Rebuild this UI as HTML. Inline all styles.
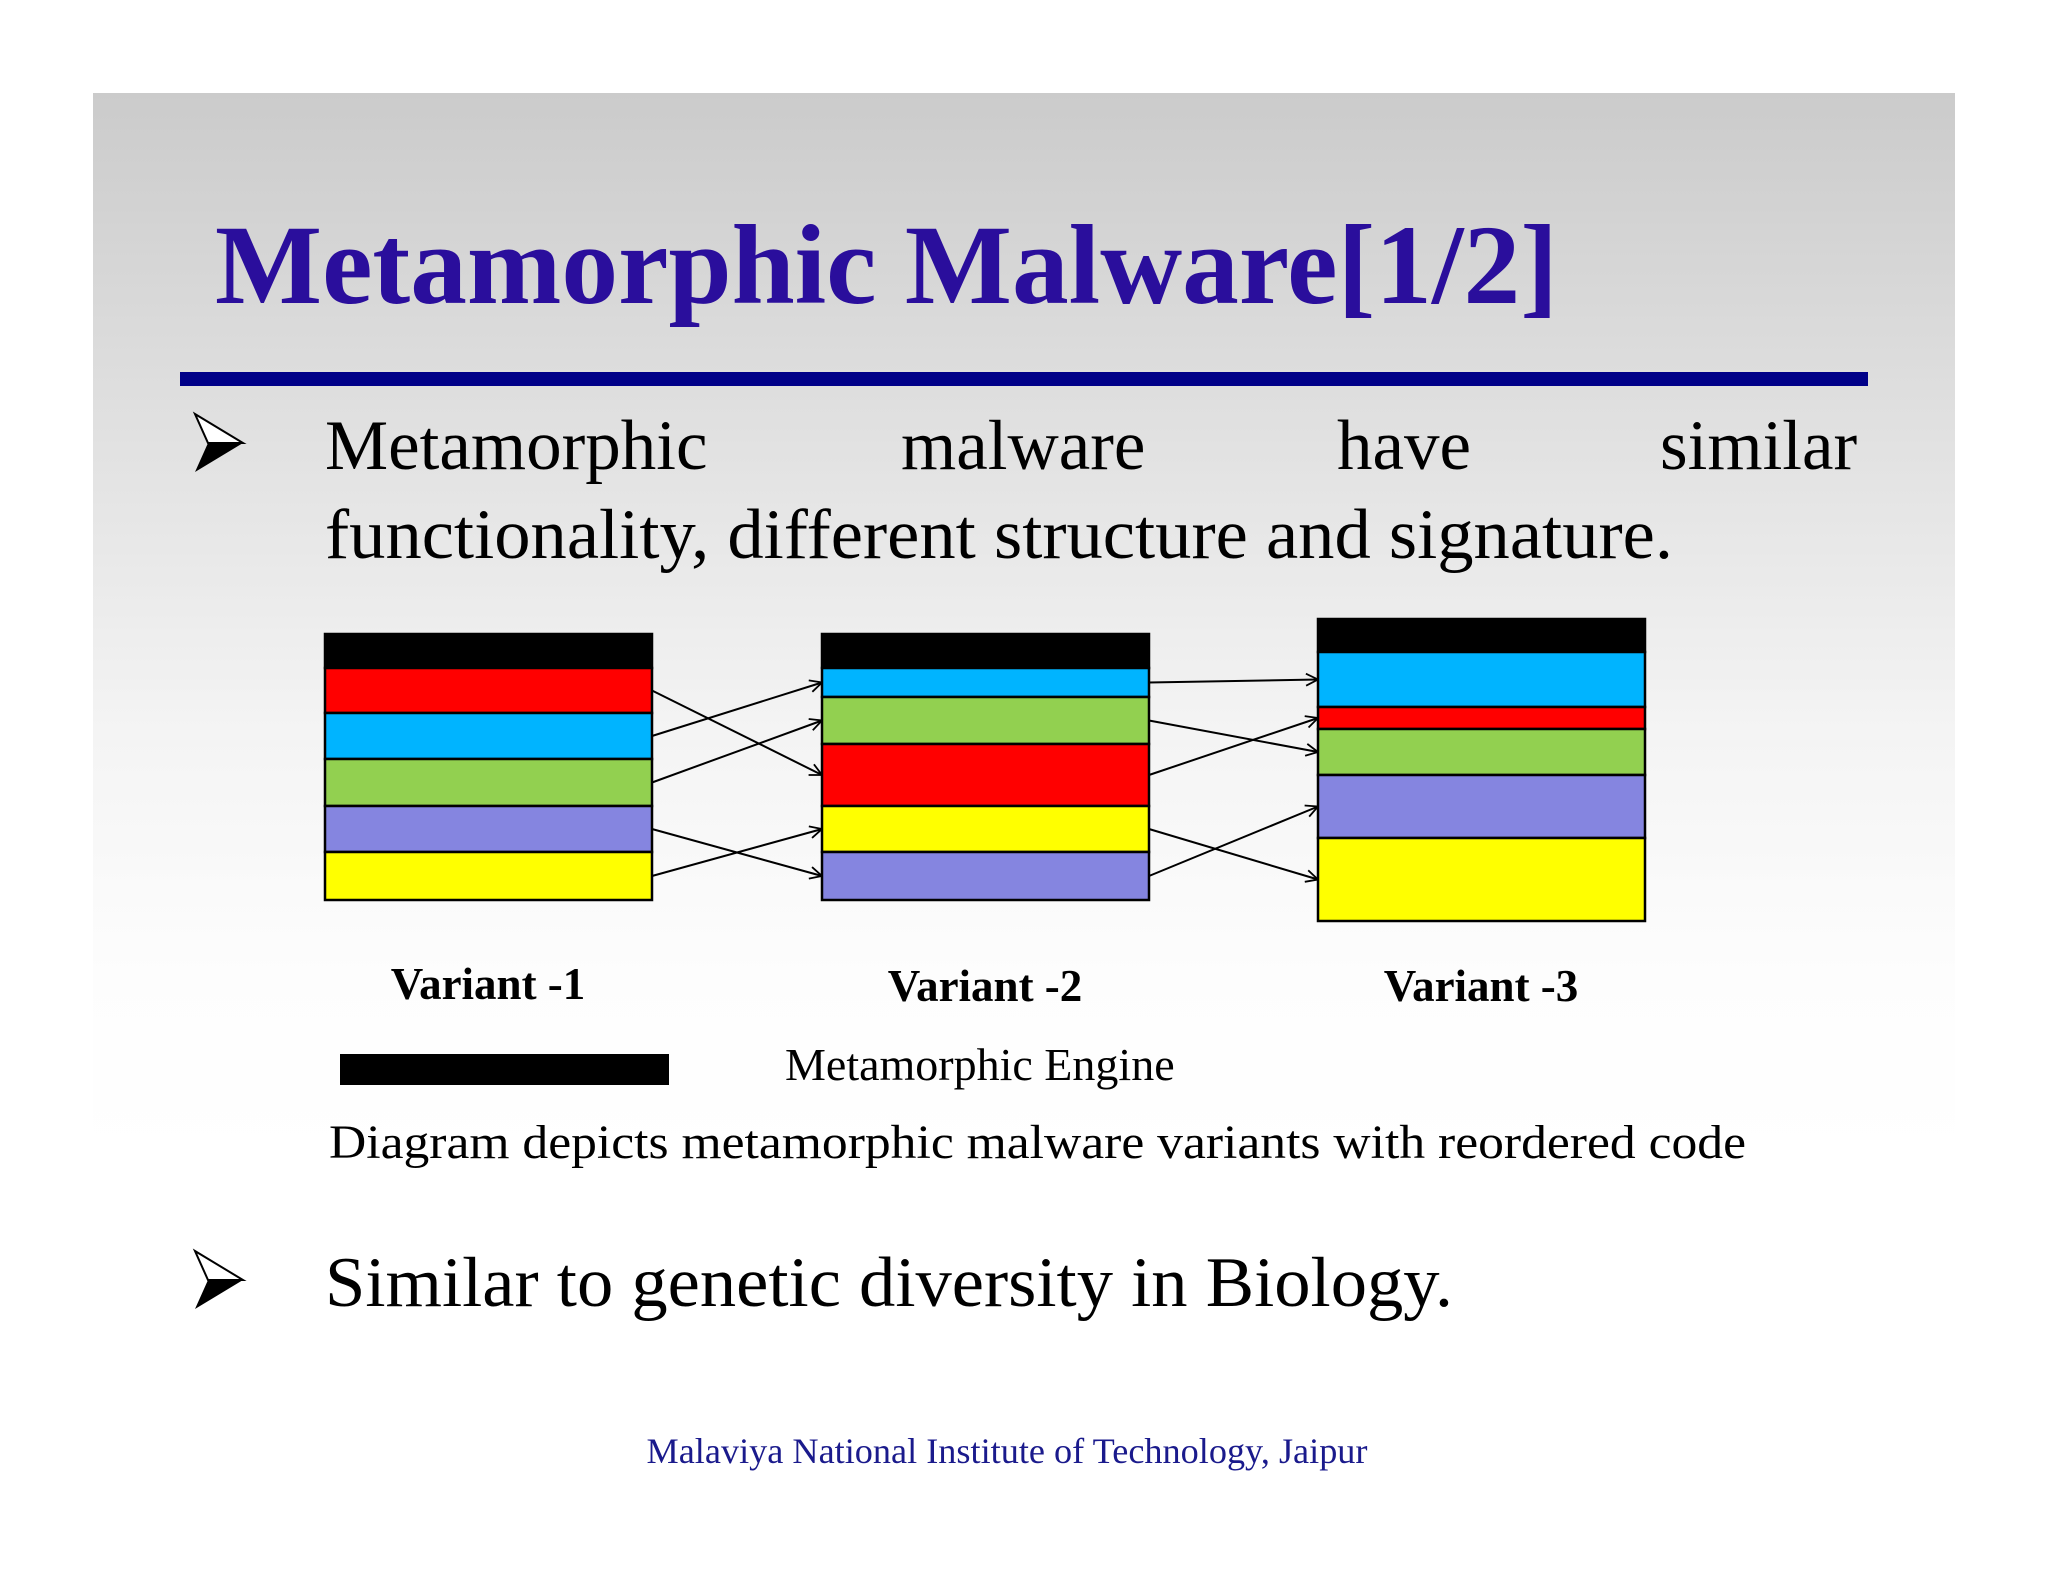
<!DOCTYPE html>
<html><head><meta charset="utf-8"><style>
html,body{margin:0;padding:0;background:#fff;}
svg{display:block;}
text{font-family:"Liberation Serif",serif;}
</style></head><body>
<svg width="2048" height="1582" viewBox="0 0 2048 1582">
<defs>
<linearGradient id="bg" x1="0" y1="0" x2="0" y2="1">
<stop offset="0" stop-color="#cbcbcb"/><stop offset="0.45" stop-color="#f4f4f4"/><stop offset="0.62" stop-color="#fdfdfd"/><stop offset="0.75" stop-color="#ffffff"/><stop offset="1" stop-color="#ffffff"/>
</linearGradient>
<marker id="ah" markerWidth="14" markerHeight="14" refX="13" refY="7" orient="auto" markerUnits="userSpaceOnUse">
<path d="M1,1 L13,7 L1,13" fill="none" stroke="#000" stroke-width="1.8"/>
</marker>
</defs>
<rect x="93" y="93" width="1862" height="1420" fill="url(#bg)"/>
<text x="215" y="303" font-size="113" font-weight="bold" fill="#2a0e9c" textLength="1343" lengthAdjust="spacingAndGlyphs">Metamorphic Malware[1/2]</text>
<rect x="180" y="372" width="1688" height="14" fill="#000088"/>
<g>
<path d="M195,414 L243,443 L195,472 L208,443 Z" fill="#000"/>
<path d="M195,414 L243,443 L208,443 Z" fill="#fff" stroke="#000" stroke-width="2"/>
<text y="469" font-size="71" fill="#000"><tspan x="325">Metamorphic</tspan><tspan x="901">malware</tspan><tspan x="1337">have</tspan><tspan x="1660">similar</tspan></text>
<text x="325" y="558" font-size="71" fill="#000" textLength="1348" lengthAdjust="spacingAndGlyphs">functionality, different structure and signature.</text>
</g>
<g id="diagram"></g>
<text x="488" y="999" font-size="45" font-weight="bold" text-anchor="middle">Variant -1</text>
<text x="985" y="1001" font-size="45" font-weight="bold" text-anchor="middle">Variant -2</text>
<text x="1481" y="1001" font-size="45" font-weight="bold" text-anchor="middle">Variant -3</text>
<rect x="340" y="1054" width="329" height="31" fill="#000"/>
<text x="785" y="1080" font-size="46" fill="#000">Metamorphic Engine</text>
<text x="329" y="1158" font-size="48" fill="#000" textLength="1417" lengthAdjust="spacingAndGlyphs">Diagram depicts metamorphic malware variants with reordered code</text>
<g>
<path d="M195,1251 L243,1280 L195,1309 L208,1280 Z" fill="#000"/>
<path d="M195,1251 L243,1280 L208,1280 Z" fill="#fff" stroke="#000" stroke-width="2"/>
<text x="325" y="1306" font-size="71" fill="#000" textLength="1128" lengthAdjust="spacingAndGlyphs">Similar to genetic diversity in Biology.</text>
</g>
<text x="1007" y="1463" font-size="36" fill="#1a1a8c" text-anchor="middle" textLength="721" lengthAdjust="spacingAndGlyphs">Malaviya National Institute of Technology, Jaipur</text>
</svg>
<script>
const colors = {engine:'#000000', red:'#ff0000', blue:'#00b4ff', green:'#92d050', purple:'#8585e0', yellow:'#ffff00'};
const v1Order = ['engine','red','blue','green','purple','yellow'];
const v1Heights = [34,45,46,47,46,48];
const v2Order = ['engine','blue','green','red','yellow','purple'];
const v2Heights = [34,29,47,62,46,48];
const v3Order = ['engine','blue','red','green','purple','yellow'];
const v3Heights = [33,55,22,46,63,83];
const variantX = [325, 822, 1318];
const variantTop = [634, 634, 619];
const boxW = 327;
const svgNS = 'http://www.w3.org/2000/svg';
const g = document.getElementById('diagram');
const orders = [v1Order, v2Order, v3Order];
const heights = [v1Heights, v2Heights, v3Heights];
const centers = [{}, {}, {}];
orders.forEach((ord, vi) => {
  let y = variantTop[vi];
  ord.forEach((seg, si) => {
    const h = heights[vi][si];
    const r = document.createElementNS(svgNS, 'rect');
    r.setAttribute('x', variantX[vi]); r.setAttribute('y', y);
    r.setAttribute('width', boxW); r.setAttribute('height', h);
    r.setAttribute('fill', colors[seg]); r.setAttribute('stroke', '#000'); r.setAttribute('stroke-width', '2.5');
    
    
    g.appendChild(r);
    centers[vi][seg] = y + h / 2;
    y += h;
  });
});
const moved = ['red','blue','green','purple','yellow'];
for (let vi = 0; vi < 2; vi++) {
  moved.forEach(seg => {
    const l = document.createElementNS(svgNS, 'line');
    l.setAttribute('x1', variantX[vi] + boxW); l.setAttribute('y1', centers[vi][seg]);
    l.setAttribute('x2', variantX[vi + 1]); l.setAttribute('y2', centers[vi + 1][seg]);
    l.setAttribute('stroke', '#000'); l.setAttribute('stroke-width', '2');
    l.setAttribute('marker-end', 'url(#ah)');
    
    
    g.appendChild(l);
  });
}
</script>
</body></html>
